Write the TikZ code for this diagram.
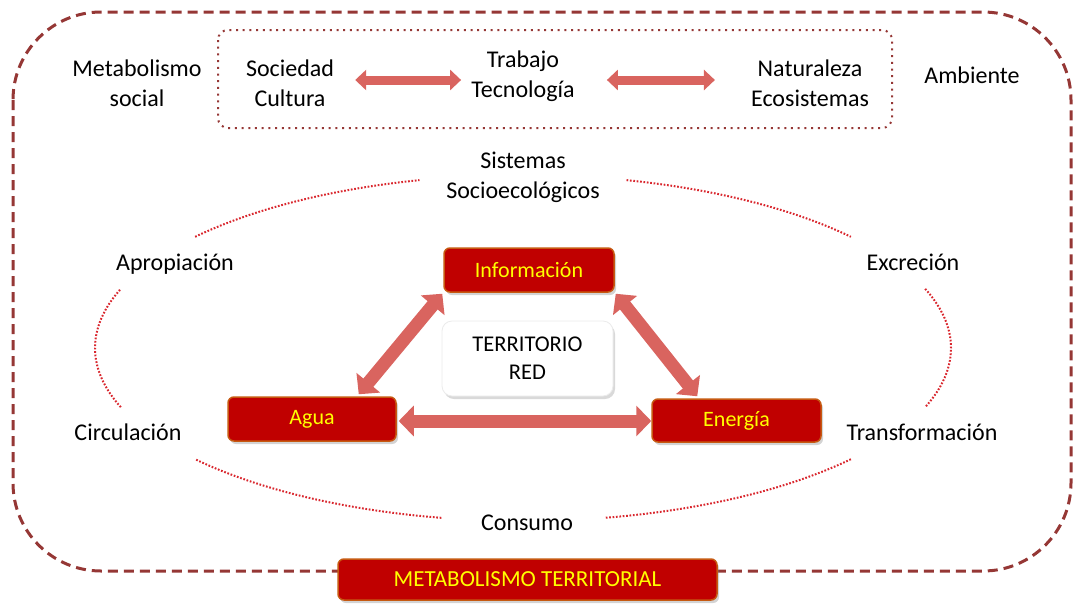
\documentclass[tikz,border=0pt]{standalone}
\usepackage{fontspec}
\setmainfont{Carlito}
\usetikzlibrary{arrows.meta,calc,shadows}
\definecolor{framered}{HTML}{953735}
\definecolor{ringred}{HTML}{D9272E}
\definecolor{flowred}{HTML}{D9645F}
\definecolor{boxred}{HTML}{C00000}
\definecolor{boxedge}{HTML}{C65911}
\definecolor{boxtext}{HTML}{FFFF00}

\begin{document}
\begin{tikzpicture}[x=1pt,y=1pt,
  lbl/.style={font=\fontsize{24}{30}\selectfont, align=center, inner sep=2pt},
  hub/.style={draw=boxedge, line width=1.5pt, fill=boxred, rounded corners=6pt,
    text=boxtext, font=\fontsize{22}{26}\selectfont, inner sep=0pt,
    drop shadow={shadow xshift=2pt,shadow yshift=-3pt,opacity=0.35}},
  core/.style={draw=black!8, line width=0.8pt, fill=white, rounded corners=10pt,
    font=\fontsize{22.5}{28}\selectfont, align=center, inner sep=0pt,
    minimum width=171pt, minimum height=75pt,
    drop shadow={shadow xshift=2pt,shadow yshift=-3pt,opacity=0.3}},
  toparrow/.style={draw=flowred, line width=9pt,
    arrows={Triangle[length=11pt,width=20pt]-Triangle[length=11pt,width=20pt]}},
  bigarrow/.style={draw=flowred, line width=13pt,
    arrows={Triangle[length=15pt,width=30pt]-Triangle[length=15pt,width=30pt]}},
  ringline/.style={draw=ringred, line width=2pt, dash pattern=on 1.7pt off 1.7pt},
]
\useasboundingbox (0,0) rectangle (1074,-603);

% outer dashed frame
\draw[framered, line width=3pt, dash pattern=on 10pt off 6pt, rounded corners=88pt]
  (13,-12) rectangle (1071,-571);

% dotted frame around the social / natural poles
\draw[framered, line width=2pt, dash pattern=on 2pt off 4.7pt, rounded corners=10pt]
  (218,-30) rectangle (892,-128);

% top row
\node[lbl] (metsoc) at (137,-83) {Metabolismo\\social};
\node[lbl] (soc) at (290,-83) {Sociedad\\Cultura};
\node[lbl] (trab) at (523,-76) {Trabajo\\Tecnología};
\node[lbl] (nat) at (810,-83) {Naturaleza\\Ecosistemas};
\node[lbl, anchor=base] (amb) at (972,-83) {Ambiente};

\draw[toparrow] ([xshift=19pt,yshift=3pt]soc.east) -- ([xshift=-8pt,yshift=-4pt]trab.west);
\draw[toparrow] ([xshift=30pt,yshift=-4pt]trab.east) -- ([xshift=-34pt,yshift=3pt]nat.west);

% process cycle labels
\node[lbl] (sis) at (523,-177) {Sistemas\\Socioecológicos};
\node[lbl, anchor=base] (apr) at (175,-270) {Apropiación};
\node[lbl, anchor=base] (exc) at (913,-270) {Excreción};
\node[lbl, anchor=base] (cir) at (128,-440) {Circulación};
\node[lbl, anchor=base] (tra) at (922,-440) {Transformación};
\node[lbl, anchor=base] (con) at (527,-530) {Consumo};

% dotted ring between the cycle labels
\coordinate (ell) at (523,-348);
\draw[ringline] ($(ell)+(140:428 and 173)$) arc[start angle=140,end angle=104,x radius=428,y radius=173];
\draw[ringline] ($(ell)+(76:428 and 173)$) arc[start angle=76,end angle=40,x radius=428,y radius=173];
\draw[ringline] ($(ell)+(20:428 and 173)$) arc[start angle=20,end angle=-20,x radius=428,y radius=173];
\draw[ringline] ($(ell)+(-40:428 and 173)$) arc[start angle=-40,end angle=-79,x radius=428,y radius=173];
\draw[ringline] ($(ell)+(-101:428 and 173)$) arc[start angle=-101,end angle=-140,x radius=428,y radius=173];
\draw[ringline] ($(ell)+(-160:428 and 173)$) arc[start angle=-160,end angle=-200,x radius=428,y radius=173];

% central triangle
\node[hub, minimum width=170pt, minimum height=44pt] (info) at (529,-270) {Información};
\node[hub, minimum width=168pt, minimum height=44pt] (agua) at (312,-419) {Agua};
\node[hub, minimum width=169pt, minimum height=43pt] (ener) at (736.5,-420.5) {Energía};
\node[core] (terr) at (527.5,-358.5) {TERRITORIO\\RED};

\draw[bigarrow] ([xshift=-38pt,yshift=2pt]agua.north east) -- ([xshift=-1pt,yshift=-1pt]info.south west);
\draw[bigarrow] ([xshift=1pt,yshift=-1pt]info.south east) -- ([xshift=46pt,yshift=2pt]ener.north west);
\draw[bigarrow] ([xshift=2pt,yshift=-2pt]agua.east) -- ([yshift=-0.5pt]ener.west);

% title box
\node[hub, minimum width=379pt, minimum height=41pt, font=\fontsize{23}{26}\selectfont] (title) at (527.5,-579.5) {METABOLISMO TERRITORIAL};
\end{tikzpicture}
\end{document}
